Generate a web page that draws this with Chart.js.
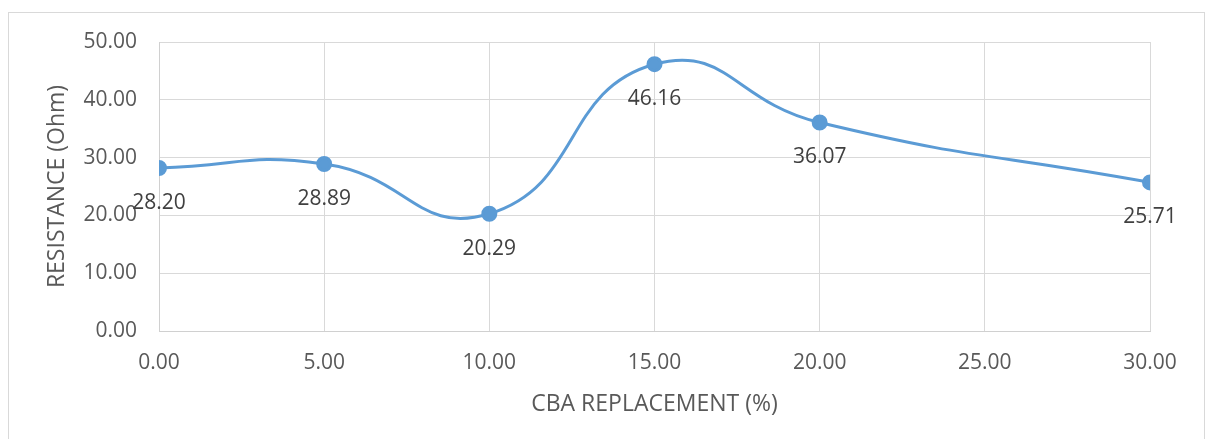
<!DOCTYPE html>
<html>
<head>
<meta charset="utf-8">
<script src="https://cdn.jsdelivr.net/npm/chart.js@4"></script>
<style>
  html, body { margin: 0; padding: 0; background: #fff; }
  #wrap { width: 1206px; height: 439px; position: relative; }
</style>
</head>
<body>
<div id="wrap"><canvas id="resistanceChart" width="1206" height="439"></canvas></div>
<script>
const replacement = [0, 5, 10, 15, 20, 30];
const resistance = [28.20, 28.89, 20.29, 46.16, 36.07, 25.71];
const xTicks = [0, 5, 10, 15, 20, 25, 30];
const yTicks = [0, 10, 20, 30, 40, 50];

const FONT = "'Open Sans', sans-serif";

// outer frame like the exported chart area
const frame = {
  id: "frame",
  beforeDraw(chart) {
    const c = chart.ctx;
    c.save();
    c.fillStyle = "#fff";
    c.fillRect(0, 0, chart.width, chart.height);
    c.strokeStyle = "#d9d9d9";
    c.lineWidth = 1;
    c.strokeRect(8.5, 12.5, 1196, 460);
    c.restore();
  }
};

// value labels under each point
const valueLabels = {
  id: "valueLabels",
  afterDatasetsDraw(chart) {
    const c = chart.ctx;
    const meta = chart.getDatasetMeta(0);
    c.save();
    c.font = "21px " + FONT;
    c.fillStyle = "#404040";
    c.textAlign = "center";
    c.textBaseline = "middle";
    meta.data.forEach((pt, i) => {
      c.fillText(resistance[i].toFixed(2), pt.x, pt.y + 35);
    });
    c.restore();
  }
};

const ctx = document.getElementById("resistanceChart").getContext("2d");
new Chart(ctx, {
  type: "line",
  data: {
    datasets: [
      {
        data: replacement.map((x, i) => ({ x: x, y: resistance[i] })),
        borderColor: "#5b9bd5",
        backgroundColor: "#5b9bd5",
        borderWidth: 3,
        pointRadius: 6.5,
        pointHoverRadius: 6.5,
        fill: false,
        tension: 0.5,
      },
    ],
  },
  options: {
    responsive: false,
    animation: false,
    layout: { padding: { top: 42, right: 56, left: 0, bottom: 0 } },
    plugins: {
      legend: { display: false },
      tooltip: { enabled: false },
    },
    scales: {
      x: {
        type: "linear",
        min: 0,
        max: 30,
        afterBuildTicks: (axis) => { axis.ticks = xTicks.map(v => ({ value: v })); },
        afterFit: (axis) => { axis.height = 108; },
        grid: { color: "#d9d9d9", drawTicks: false },
        border: { color: "#d0d0d0" },
        ticks: {
          padding: 19,
          color: "#595959",
          font: { family: FONT, size: 21 },
          callback: (v) => Number(v).toFixed(2),
        },
        title: {
          display: true,
          text: "CBA REPLACEMENT (%)",
          color: "#595959",
          font: { family: FONT, size: 23 },
          padding: { top: 0, bottom: 21 },
        },
      },
      y: {
        min: 0,
        max: 50,
        afterBuildTicks: (axis) => { axis.ticks = yTicks.map(v => ({ value: v })); },
        afterFit: (axis) => { axis.width = 159; },
        grid: { color: "#d9d9d9", drawTicks: false },
        border: { color: "#d0d0d0" },
        ticks: {
          padding: 22,
          color: "#595959",
          font: { family: FONT, size: 21 },
          callback: (v) => Number(v).toFixed(2),
        },
        title: {
          display: true,
          text: "RESISTANCE (Ohm)",
          color: "#595959",
          font: { family: FONT, size: 23 },
          padding: { top: 44, bottom: 0 },
        },
      },
    },
  },
  plugins: [frame, valueLabels],
});
</script>
</body>
</html>
